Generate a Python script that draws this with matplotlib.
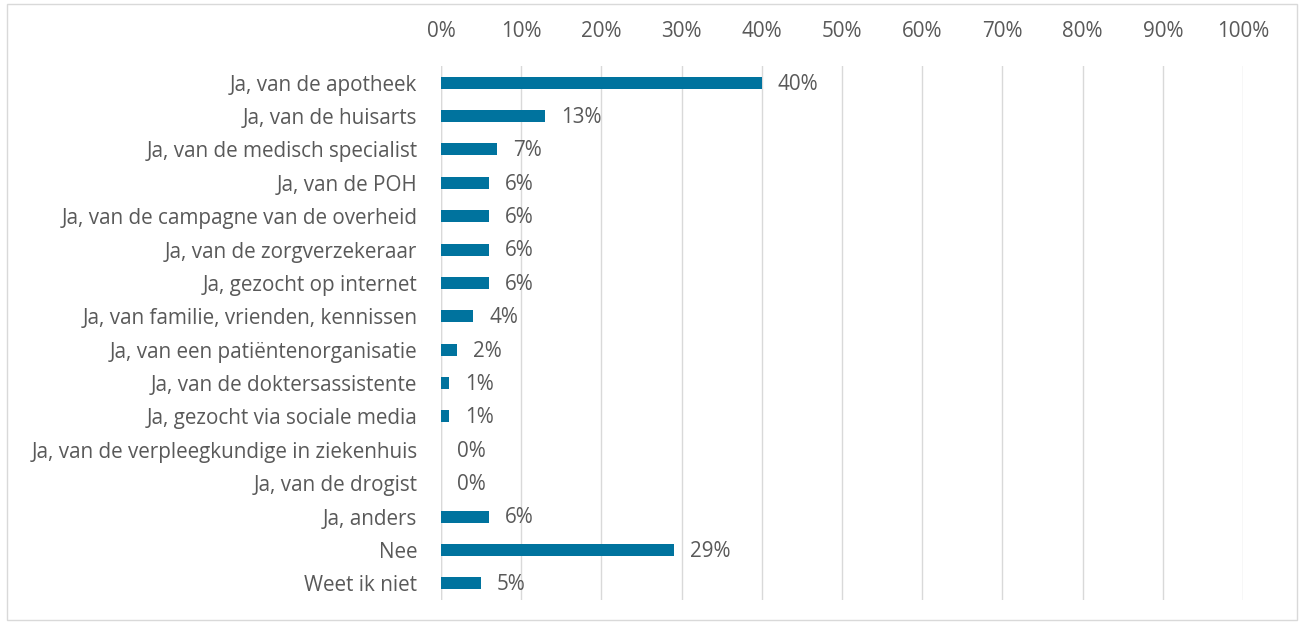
import matplotlib
matplotlib.use("Agg")
import matplotlib.pyplot as plt
from matplotlib.patches import Rectangle

categories = [
    "Ja, van de apotheek",
    "Ja, van de huisarts",
    "Ja, van de medisch specialist",
    "Ja, van de POH",
    "Ja, van de campagne van de overheid",
    "Ja, van de zorgverzekeraar",
    "Ja, gezocht op internet",
    "Ja, van familie, vrienden, kennissen",
    "Ja, van een patiëntenorganisatie",
    "Ja, van de doktersassistente",
    "Ja, gezocht via sociale media",
    "Ja, van de verpleegkundige in ziekenhuis",
    "Ja, van de drogist",
    "Ja, anders",
    "Nee",
    "Weet ik niet",
]
values = [40, 13, 7, 6, 6, 6, 6, 4, 2, 1, 1, 0, 0, 6, 29, 5]
xticks = list(range(0, 101, 10))

plt.rcParams['font.family'] = ['Open Sans', 'DejaVu Sans']
text_color = "#595959"
bar_color = "#00739E"
grid_color = "#D9D9D9"
fs = 14.9

fig = plt.figure(figsize=(13.04, 6.24), dpi=100)
ax = fig.add_axes([441/1304, 1 - 600/624, (1243-441)/1304, (600-66)/624])

y = list(range(len(categories)))
ax.barh(y, values, height=0.36, color=bar_color, zorder=3)
for yi, v in zip(y, values):
    ax.text(v + 2, yi + 0.04, f"{v}%", va="center", ha="left", fontsize=fs, color=text_color)

ax.set_xlim(0, 100)
ax.set_ylim(len(categories) - 0.5, -0.5)
ax.set_xticks(xticks)
ax.set_xticklabels([f"{t}%" for t in xticks])
ax.xaxis.tick_top()
ax.set_yticks(y)
ax.set_yticklabels(categories)
ax.tick_params(axis="both", length=0, labelsize=fs, colors=text_color)
ax.tick_params(axis="x", pad=17)
ax.tick_params(axis="y", pad=17)
ax.grid(axis="x", color=grid_color, linewidth=1, zorder=0)
for s in ax.spines.values():
    s.set_visible(False)
ax.axvline(0, color=grid_color, linewidth=1, zorder=1)

fig.patches.append(Rectangle((7/1304, 4/624), (1297-7)/1304, (620-4)/624,
                             transform=fig.transFigure, fill=False,
                             edgecolor=grid_color, linewidth=1))

fig.savefig("out.png", dpi=100)
